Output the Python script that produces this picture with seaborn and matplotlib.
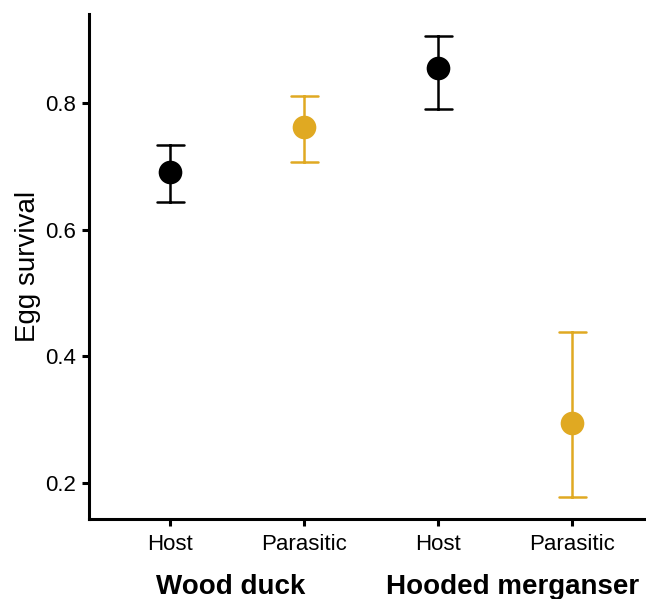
import matplotlib
matplotlib.use("Agg")
import matplotlib.pyplot as plt
import matplotlib.transforms as mtransforms
import seaborn as sns
import pandas as pd

# ---- data ----
species = ["Wood duck", "Wood duck", "Hooded merganser", "Hooded merganser"]
status = ["Host", "Parasitic", "Host", "Parasitic"]
survival = [0.691, 0.762, 0.855, 0.295]
lower = [0.643, 0.707, 0.791, 0.178]
upper = [0.734, 0.811, 0.905, 0.439]
tick_labels = ["Host", "Parasitic", "Host", "Parasitic"]
group_labels = ["Wood duck", "Hooded merganser"]
colors = {"Host": "#000000", "Parasitic": "#E0A922"}

keys = [f"{s} {t}" for s, t in zip(species, status)]
rows = []
for k, st, lo, mid, hi in zip(keys, status, lower, survival, upper):
    for v in (lo, mid, hi):
        rows.append({"key": k, "status": st, "value": v})
df = pd.DataFrame(rows)

sns.set_theme(style="white")
plt.rcParams["font.family"] = ["Liberation Sans", "DejaVu Sans"]

fig = plt.figure(figsize=(6.46, 5.99), dpi=100)
ax = fig.add_axes([89 / 646, 1 - 519 / 599, 1 - 89 / 646, (519 - 14) / 599])

sns.pointplot(data=df, x="key", y="value", hue="status", order=keys,
              palette=colors, estimator="median", errorbar=("pi", 100),
              linestyle="none", markers="o", markersize=15, capsize=0.2,
              err_kws={"linewidth": 1.8}, legend=False, ax=ax)

ax.set_xlim(-0.605, 3.55)
ax.set_ylim(0.143, 0.9405)
ax.set_yticks([0.2, 0.4, 0.6, 0.8])
ax.set_yticklabels(["0.2", "0.4", "0.6", "0.8"])
ax.set_xticks(range(len(keys)))
ax.set_xticklabels(tick_labels)
ax.set_xlabel("")
ax.set_ylabel("Egg survival", fontsize=20, labelpad=3, color="black")

for side in ["top", "right"]:
    ax.spines[side].set_visible(False)
for side in ["left", "bottom"]:
    ax.spines[side].set_linewidth(2.2)
    ax.spines[side].set_color("black")
ax.tick_params(axis="both", which="major", direction="out", length=5, width=2.2,
               color="black", labelsize=16, labelcolor="black", pad=4,
               left=True, bottom=True)
ax.tick_params(axis="x", pad=6)

trans = mtransforms.blended_transform_factory(ax.transData, ax.transAxes)
shifts = [-6, 7]
for i, g in enumerate(group_labels):
    xc = (2 * i + 2 * i + 1) / 2
    t = trans + mtransforms.ScaledTranslation(shifts[i] / 100, 0, fig.dpi_scale_trans)
    ax.text(xc, -0.135, g, transform=t, ha="center", va="center",
            fontsize=20, fontweight="bold", color="black")

fig.savefig("out.png", dpi=100)
